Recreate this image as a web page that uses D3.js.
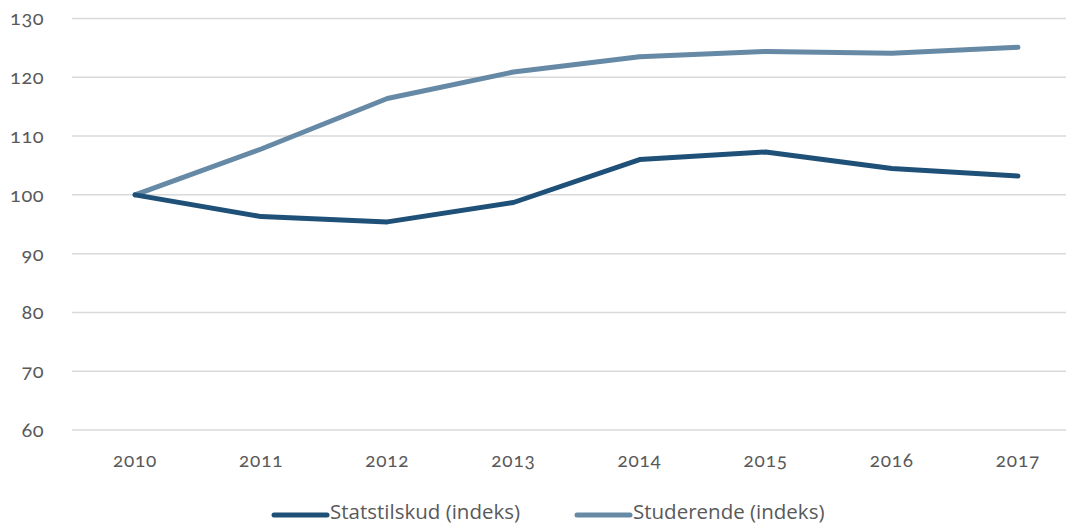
<!DOCTYPE html>
<html><head><meta charset="utf-8">
<script src="https://cdn.jsdelivr.net/npm/d3@7"></script>
<style>
body{margin:0;background:#fff;}
svg{display:block;font-family:"Open Sans",sans-serif;}
.ax text{font-family:Lato,"Open Sans",sans-serif;font-feature-settings:"onum" 1;font-variant-numeric:oldstyle-nums;}
</style></head><body>
<script>
const years = ["2010","2011","2012","2013","2014","2015","2016","2017"];
const statstilskud = [100, 96.3, 95.4, 98.7, 106.0, 107.3, 104.5, 103.2];
const studerende = [100, 107.8, 116.4, 120.9, 123.5, 124.4, 124.1, 125.1];
const yTicks = [60, 70, 80, 90, 100, 110, 120, 130];
const seriesNames = ["Statstilskud (indeks)", "Studerende (indeks)"];
const seriesColors = ["#1f5078", "#6689a6"];

const W = 1066, H = 524;
const svg = d3.select("body").append("svg").attr("width", W).attr("height", H);

const x = d3.scaleBand().domain(years).range([72, 1081]);
const y = d3.scaleLinear().domain([60, 130]).range([430, 18.5]);

// gridlines
svg.append("g").selectAll("line").data(yTicks).join("line")
  .attr("x1", 72).attr("x2", W)
  .attr("y1", d => y(d)).attr("y2", d => y(d))
  .attr("stroke", "#d9d9d9").attr("stroke-width", 1.5);

// y axis labels
const yAxis = d3.axisLeft(y).tickValues(yTicks).tickSize(0).tickPadding(0);
const gy = svg.append("g").attr("class", "ax").attr("transform", "translate(44,0)").call(yAxis);
gy.select(".domain").remove();
gy.selectAll("text").attr("fill", "#595959").style("font-size", "20px").style("letter-spacing", "0.5px");

// x axis labels
const xAxis = d3.axisBottom(x).tickSize(0).tickPadding(0);
const gx = svg.append("g").attr("class", "ax").attr("transform", "translate(0,453)").call(xAxis);
gx.select(".domain").remove();
gx.selectAll("text").attr("fill", "#595959").style("font-size", "19px").style("letter-spacing", "0.8px");

const line = d3.line().x((d, i) => x(years[i]) + x.bandwidth() / 2).y(d => y(d));
[studerende, statstilskud].forEach((s, k) => {
  svg.append("path").datum(s)
    .attr("d", line)
    .attr("fill", "none")
    .attr("stroke", seriesColors[k === 0 ? 1 : 0])
    .attr("stroke-width", 5)
    .attr("stroke-linecap", "round")
    .attr("stroke-linejoin", "round");
});

// legend
const legendX = [274, 577];
seriesNames.forEach((n, i) => {
  const g = svg.append("g").attr("transform", `translate(${legendX[i]},515)`);
  g.append("line").attr("x1", 0).attr("x2", 53).attr("y1", 0).attr("y2", 0)
    .attr("stroke", seriesColors[i]).attr("stroke-width", 5).attr("stroke-linecap", "round");
  g.append("text").attr("x", 56).attr("y", 4).text(n)
    .attr("fill", "#595959").style("font-size", "20.5px");
});
</script>
</body></html>
